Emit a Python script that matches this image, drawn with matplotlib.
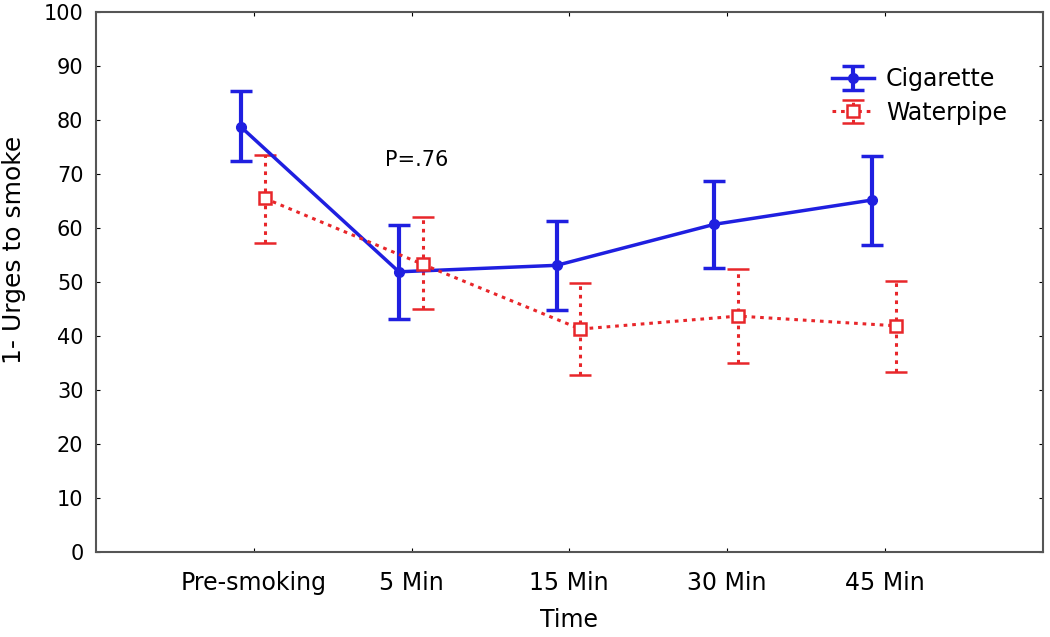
import numpy as np
import matplotlib
matplotlib.use("Agg")
import matplotlib.pyplot as plt

plt.rcParams['font.family'] = ['DejaVu Sans']

times = ["Pre-smoking", "5 Min", "15 Min", "30 Min", "45 Min"]
cig_mean = [78.7, 51.9, 53.1, 60.7, 65.2]
cig_lo = [72.4, 43.1, 44.8, 52.6, 56.9]
cig_hi = [85.4, 60.5, 61.3, 68.7, 73.3]
wp_mean = [65.5, 53.3, 41.3, 43.7, 41.9]
wp_lo = [57.2, 45.0, 32.8, 35.0, 33.3]
wp_hi = [73.5, 62.0, 49.8, 52.4, 50.2]

x = np.arange(len(times))
cm = np.array(cig_mean)
wm = np.array(wp_mean)

fig = plt.figure(figsize=(10.5, 6.37), dpi=100)
ax = fig.add_axes([0.0914, 0.1334, 0.9016, 0.8476])

ax.errorbar(x - 0.08, cm, yerr=[cm - np.array(cig_lo), np.array(cig_hi) - cm],
            color="#1f1fe0", lw=2.5, marker="o", ms=7, capsize=8, capthick=2.5,
            elinewidth=3, label="Cigarette")
eb = ax.errorbar(x + 0.07, wm, yerr=[wm - np.array(wp_lo), np.array(wp_hi) - wm],
                 color="#e8262a", lw=2.2, ls=(0, (1.2, 1.6)), marker="s", ms=8,
                 mfc="white", mec="#e8262a", mew=1.8, capsize=8, capthick=2,
                 elinewidth=2.2, label="Waterpipe")
eb[2][0].set_linestyle((0, (1.2, 1.6)))

ax.text(1.03, 72.6, "P=.76", fontsize=15, ha="center", va="center")

ax.set_xlim(-1, 5)
ax.set_ylim(0, 100)
ax.set_xticks(x)
ax.set_xticklabels(times, fontsize=17)
ax.set_yticks(np.arange(0, 101, 10))
ax.tick_params(axis="y", labelsize=15, direction="in", length=3, right=True, pad=9)
ax.tick_params(axis="x", direction="in", length=3, top=True, pad=14)
for s in ax.spines.values():
    s.set_color("#555555")
    s.set_linewidth(1.5)

ax.set_ylabel("1- Urges to smoke", fontsize=18)
ax.yaxis.set_label_coords(-0.074, 0.56)
ax.set_xlabel("Time", fontsize=17, labelpad=9)

ax.legend(loc="upper left", bbox_to_anchor=(0.777, 0.898), frameon=False,
          borderpad=0, borderaxespad=0, fontsize=17, handlelength=1.8,
          labelspacing=0.4, handletextpad=0.5)

fig.savefig("out.png", dpi=100)
